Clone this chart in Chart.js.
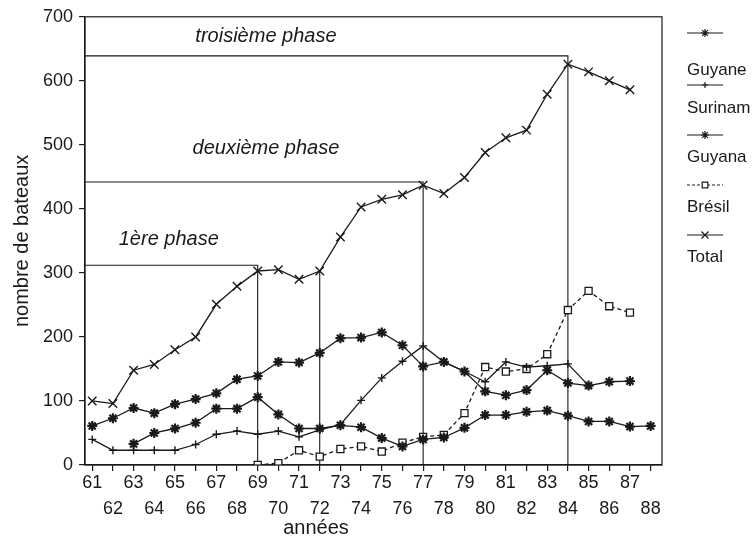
<!DOCTYPE html>
<html>
<head>
<meta charset="utf-8">
<script src="https://cdn.jsdelivr.net/npm/chart.js@4/dist/chart.umd.min.js"></script>
<style>
  html, body { margin: 0; padding: 0; background: #fff; }
  #wrap { width: 754px; height: 542px; position: relative; }
</style>
</head>
<body>
<div id="wrap"><canvas id="chart" width="754" height="542"></canvas></div>
<script>
// ===== DONNÉES =====
const years = [61, 62, 63, 64, 65, 66, 67, 68, 69, 70, 71, 72, 73, 74, 75, 76, 77, 78, 79, 80, 81, 82, 83, 84, 85, 86, 87, 88];
const guyane  = [61, 73, 89, 81, 95, 103, 112, 134, 139, 161, 160, 175, 198, 199, 207, 187, 154, 161, 146, 115, 109, 117, 148, 128, 124, 130, 131, null];
const surinam = [40, 23, 23, 23, 23, 32, 48, 53, 48, 53, 44, 55, 63, 101, 136, 162, 186, 161, 146, 130, 161, 153, 155, 158, 124, null, null, null];
const guyana  = [null, null, 33, 50, 57, 66, 88, 88, 106, 79, 57, 57, 62, 59, 42, 29, 40, 43, 58, 78, 78, 83, 85, 77, 68, 68, 60, 61];
const bresil  = [null, null, null, null, null, null, null, null, 0, 3, 23, 13, 25, 29, 21, 35, 44, 47, 81, 153, 146, 150, 173, 242, 272, 248, 238, null];
const total   = [100, 96, 148, 157, 180, 200, 251, 279, 303, 305, 290, 303, 356, 403, 415, 422, 437, 424, 449, 488, 511, 523, 579, 626, 614, 600, 586, null];
const yTicks = [0, 100, 200, 300, 400, 500, 600, 700];

// phases (limites en années / nombre de bateaux)
const phaseStart = 60.65;
const phase1 = [[phaseStart, 312], [69, 312], [69, 0]];
const phase1b = [[72, 303], [72, 0]];
const phase2 = [[phaseStart, 442], [77, 442], [77, 0]];
const phase3 = [[phaseStart, 639], [84, 639], [84, 0]];
const phaseLabels = [
    { text: "troisième phase", x: 69.4, y: 670 },
    { text: "deuxième phase", x: 69.4, y: 495 },
    { text: "1ère phase", x: 64.7, y: 352 }
];

const ink = "#1a1a1a";
const fontFam = "'Liberation Sans', Arial, sans-serif";

function toPoints(arr) {
    return arr.map((v, i) => ({ x: years[i], y: v }));
}
function pairs(arr) {
    return arr.map(p => ({ x: p[0], y: p[1] }));
}

const seriesStyle = [
    { label: "Guyane",  data: guyane,  pointStyle: "star",     radius: 5, width: 2.2, dash: [] },
    { label: "Surinam", data: surinam, pointStyle: "cross",    radius: 4, width: 1.4, dash: [] },
    { label: "Guyana",  data: guyana,  pointStyle: "star",     radius: 5, width: 2.2, dash: [] },
    { label: "Brésil",  data: bresil,  pointStyle: "rect",     radius: 5, width: 1.3, dash: [4, 3] },
    { label: "Total",   data: total,   pointStyle: "crossRot", radius: 6, width: 1.4, dash: [] }
];

const datasets = seriesStyle.map(s => ({
    label: s.label,
    data: toPoints(s.data),
    borderColor: ink,
    borderWidth: 1.3,
    borderDash: s.dash,
    backgroundColor: "#fff",
    pointStyle: s.pointStyle,
    pointRadius: s.radius,
    pointBorderWidth: s.width,
    pointBorderColor: ink,
    pointBackgroundColor: "#fff",
    spanGaps: false,
    tension: 0
}));

[phase1, phase1b, phase2, phase3].forEach(p => {
    datasets.push({
        label: "_phase",
        data: pairs(p),
        borderColor: ink,
        borderWidth: 1.1,
        pointRadius: 0,
        tension: 0
    });
});

// ===== CADRE + LÉGENDE + ÉTIQUETTES =====
const decorPlugin = {
    id: "decor",
    afterDraw(chart) {
        const { ctx, chartArea, scales } = chart;
        ctx.save();
        ctx.strokeStyle = ink;
        ctx.lineWidth = 1.2;
        ctx.strokeRect(chartArea.left, chartArea.top, chartArea.right - chartArea.left, chartArea.bottom - chartArea.top);

        // étiquettes des phases
        ctx.fillStyle = ink;
        ctx.font = "italic 20px " + fontFam;
        ctx.textAlign = "center";
        ctx.textBaseline = "middle";
        phaseLabels.forEach(l => {
            ctx.fillText(l.text, scales.x.getPixelForValue(l.x), scales.y.getPixelForValue(l.y));
        });

        // titre de l'axe x (décalé à gauche comme l'original)
        ctx.font = "20px " + fontFam;
        ctx.fillText("années", 316, 528);

        // légende
        const lx = 687, lw = 36;
        const markY = [33, 85, 135, 185, 235];
        const textY = [70, 108, 157, 207, 257];
        ctx.font = "17px " + fontFam;
        ctx.textAlign = "left";
        seriesStyle.forEach((s, i) => {
            ctx.strokeStyle = ink;
            ctx.lineWidth = 1.2;
            ctx.setLineDash(s.dash.length ? [3, 2] : []);
            ctx.beginPath();
            ctx.moveTo(lx, markY[i]);
            ctx.lineTo(lx + lw, markY[i]);
            ctx.stroke();
            ctx.setLineDash([]);
            ctx.fillStyle = "#fff";
            Chart.helpers.drawPoint(ctx, {
                pointStyle: s.pointStyle,
                radius: s.radius - 1,
                borderWidth: s.width,
                rotation: 0
            }, lx + lw / 2, markY[i]);
            ctx.fillStyle = ink;
            ctx.fillText(s.label, lx, textY[i]);
        });
        ctx.restore();
    }
};

new Chart(document.getElementById("chart"), {
    type: "line",
    data: { datasets },
    options: {
        responsive: false,
        animation: false,
        layout: { padding: { top: 15, right: 92, left: 0, bottom: 0 } },
        plugins: {
            legend: { display: false },
            tooltip: { enabled: false }
        },
        scales: {
            x: {
                type: "linear",
                min: 60.65,
                max: 88.55,
                afterBuildTicks: axis => { axis.ticks = years.map(v => ({ value: v })); },
                afterFit: axis => { axis.height = 77; },
                ticks: {
                    autoSkip: false,
                    maxRotation: 0,
                    padding: -1,
                    color: ink,
                    font: { family: fontFam, size: 18, lineHeight: 1.45 },
                    callback: v => (v % 2 === 1 ? [String(v), ""] : ["", String(v)])
                },
                grid: { display: true, drawOnChartArea: false, drawTicks: true, tickLength: 6, color: ink, lineWidth: 1.2 },
                border: { color: ink, width: 1.2 }
            },
            y: {
                min: 0,
                max: 700,
                afterBuildTicks: axis => { axis.ticks = yTicks.map(v => ({ value: v })); },
                afterFit: axis => { axis.width = 85; },
                ticks: {
                    padding: 6,
                    color: ink,
                    font: { family: fontFam, size: 18 }
                },
                grid: { display: true, drawOnChartArea: false, drawTicks: true, tickLength: 6, color: ink, lineWidth: 1.2 },
                border: { color: ink, width: 1.2 },
                title: {
                    display: true,
                    text: "nombre de bateaux",
                    color: ink,
                    font: { family: fontFam, size: 20 },
                    padding: { top: 10, bottom: 0 }
                }
            }
        }
    },
    plugins: [decorPlugin]
});
</script>
</body>
</html>
